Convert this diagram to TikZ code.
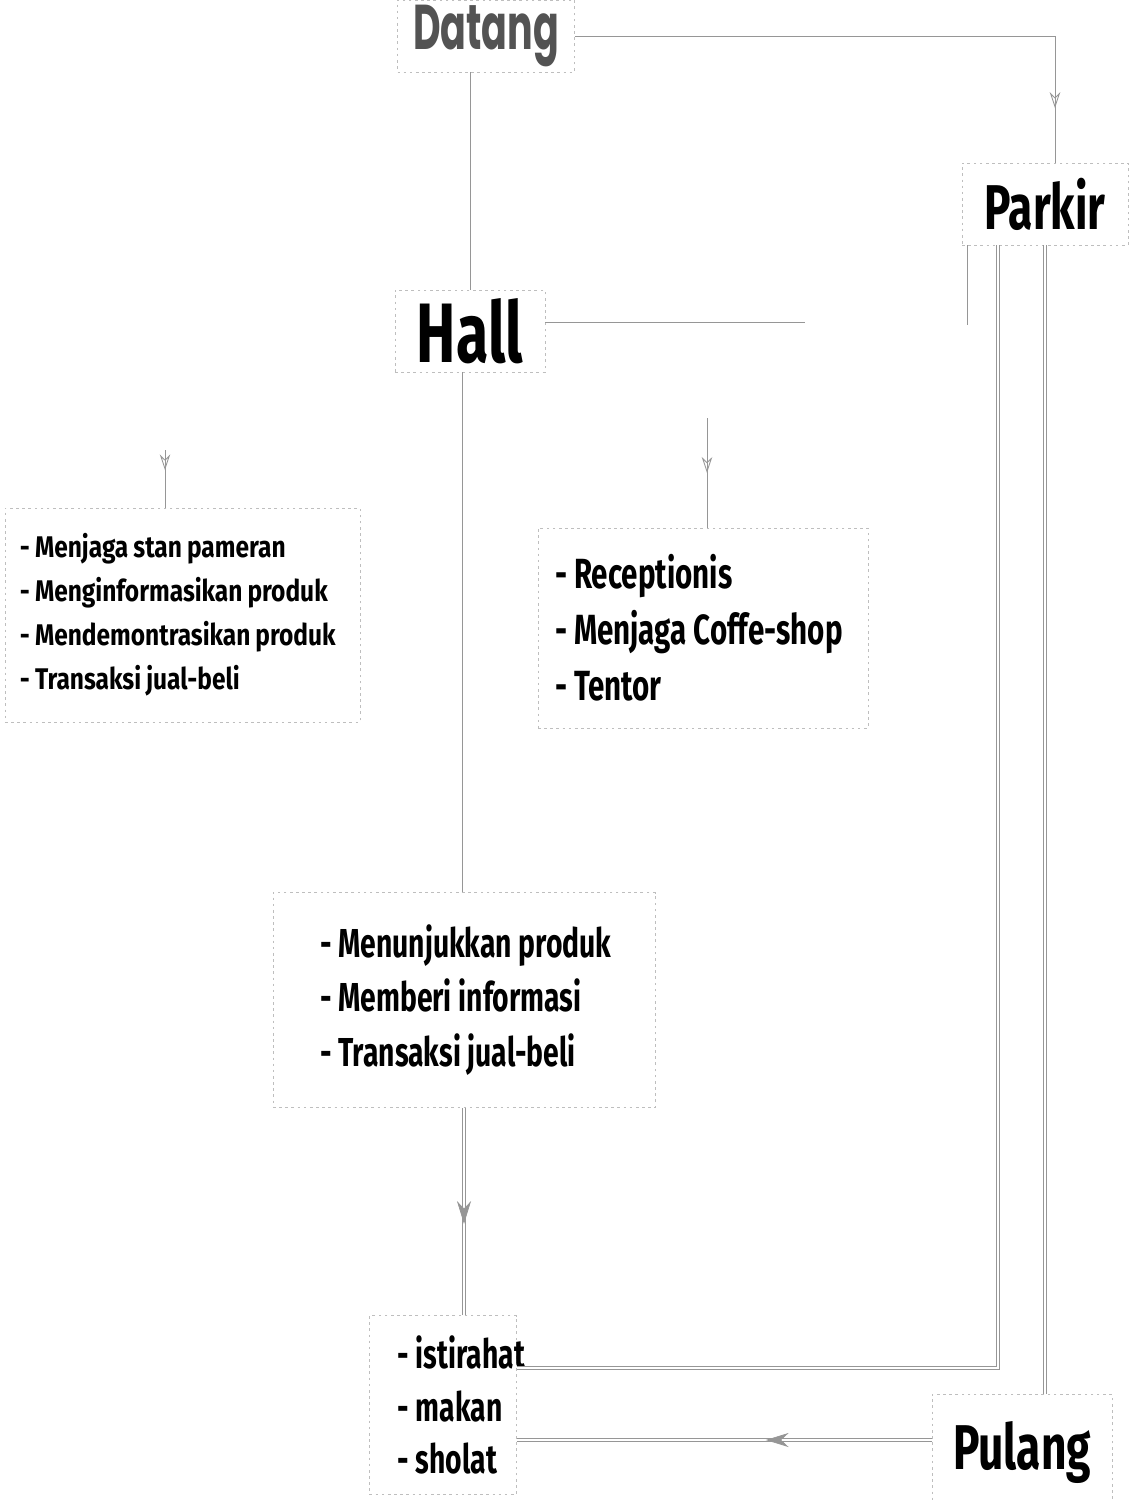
\documentclass[tikz,border=0pt]{standalone}
\usepackage{fontspec}
\usetikzlibrary{positioning,arrows.meta,decorations.markings}
\newfontfamily\tegak{Fira Sans}[FakeStretch=0.7]
\newfontfamily\tegakkecil{Fira Sans}[FakeStretch=0.82]
\newfontfamily\datangfont{Poppins}[FakeStretch=0.6]
\definecolor{garisabu}{RGB}{150,150,150}
\definecolor{tepiabu}{RGB}{190,190,190}
\tikzset{
  kotak/.style={draw=tepiabu,dash pattern=on 1.5pt off 2pt,line width=0.4pt,inner sep=0pt},
  judul/.style={kotak,font=\tegak\bfseries},
  daftar/.style={kotak,align=left,execute at begin node={\spaceskip=0.17em plus 0.05em}},
  garis/.style={draw=garisabu,line width=0.5pt},
  ganda/.style={draw=garisabu,double=white,double distance=1.6pt,line width=0.4pt},
  panah/.style={garis,postaction={decorate},decoration={markings,mark=at position #1 with {\arrow{Stealth[open,length=9pt,width=6pt]}}}},
  panah/.default=0.5,
  blok/.style={ganda,postaction={decorate},decoration={markings,mark=at position #1 with {\arrow[line width=0.4pt,draw=garisabu,fill=white]{Stealth[length=13pt,width=8pt]}}}},
  blok/.default=0.5
}

\begin{document}
\begin{tikzpicture}
      \useasboundingbox (0,0) rectangle (22.56,-30.04);
      \node[kotak,minimum width=3.54cm,minimum height=1.44cm] (datang) at (9.72,-0.72) {\datangfont\bfseries\fontsize{36}{36}\selectfont\color{gray!65!black}Datang};
      \node[judul,minimum width=3.32cm,minimum height=1.64cm] (parkir) at (20.9,-4.08) {\fontsize{36}{36}\selectfont Parkir};
      \node[judul,minimum width=3.0cm,minimum height=1.64cm] (hall) at (9.4,-6.62) {\fontsize{48}{48}\selectfont Hall};
      \node[daftar,font=\tegakkecil\bfseries\fontsize{17}{25}\selectfont,text width=6.5cm,inner xsep=0.3cm,minimum height=4.28cm] (tugasA) at (3.65,-12.3) {\mbox{- Menjaga stan pameran}\\\mbox{- Menginformasikan produk}\\\mbox{- Mendemontrasikan produk}\\\mbox{- Transaksi jual-beli}};
      \node[daftar,font=\tegak\bfseries\fontsize{24}{32}\selectfont,text width=5.92cm,inner xsep=0.34cm,minimum height=4.0cm] (tugasB) at (14.06,-12.56) {\mbox{- Receptionis}\\\mbox{- Menjaga Coffe-shop}\\\mbox{- Tentor}};
      \node[daftar,font=\tegak\bfseries\fontsize{23}{31}\selectfont,text width=5.76cm,inner xsep=0.94cm,minimum height=4.3cm] (tugasC) at (9.28,-20.0) {\mbox{- Menunjukkan produk}\\\mbox{- Memberi informasi}\\\mbox{- Transaksi jual-beli}};
      \node[daftar,font=\tegak\bfseries\fontsize{23}{30}\selectfont,text width=1.82cm,inner xsep=0.56cm,minimum height=3.58cm] (rehat) at (8.86,-28.1) {\mbox{- istirahat}\\\mbox{- makan}\\\mbox{- sholat}};
      \node[judul,minimum width=3.6cm,minimum height=2.3cm] (pulang) at (20.44,-29.04) {\fontsize{36}{36}\selectfont Pulang};
      % ujung garis yang lepas
      \coordinate (ujungHall) at (16.1,-6.44);
      \coordinate (atasA) at (3.3,-9.0);
      \coordinate (atasB) at (14.14,-8.36);
      \coordinate (ujungParkir) at (19.34,-6.5);
      \draw[panah=0.91] (datang.east) -| ([xshift=0.2cm]parkir.north);
      \draw[garis] (hall.north |- datang.south) -- (hall.north);
      \draw[garis] ([yshift=0.18cm]hall.east) -- (ujungHall);
      \draw[panah=0.35] (atasA) -- (atasA |- tugasA.north);
      \draw[panah=0.5] (atasB) -- (atasB |- tugasB.north);
      \draw[garis] ([xshift=-0.16cm]hall.south) -- ([xshift=-0.16cm]hall.south |- tugasC.north);
      \draw[blok=0.56] (tugasC.south) -- (tugasC.south |- rehat.north);
      \draw[garis] (ujungParkir |- parkir.south) -- (ujungParkir);
      \draw[ganda] ([xshift=-0.94cm]parkir.south) |- ([yshift=0.74cm]rehat.east);
      \draw[ganda] (parkir.south) -- (parkir.south |- pulang.north);
      \draw[blok=0.4] ([yshift=0.24cm]pulang.west) -- ([yshift=0.24cm]pulang.west -| rehat.east);
    \end{tikzpicture}
\end{document}
